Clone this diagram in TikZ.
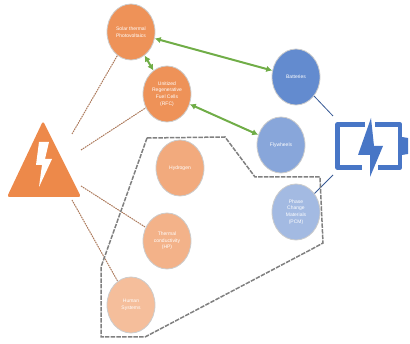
\documentclass[tikz,border=0pt]{standalone}
\usepackage{fontspec}
\setmainfont{Liberation Sans}
\usetikzlibrary{calc, shapes.geometric, arrows.meta}

\definecolor{warnorange}{RGB}{237,137,74}
\definecolor{batteryblue}{RGB}{72,118,198}
\definecolor{flowgreen}{RGB}{112,173,71}
\definecolor{sourcebrown}{RGB}{172,122,92}

\begin{document}
\begin{tikzpicture}[x=1pt, y=-1pt]
    \tikzset{
        tech/.style = {ellipse, draw=black!20, line width=.8pt, minimum width=48pt,
            minimum height=56pt, inner sep=0pt, align=center, text=white,
            font=\fontsize{5}{6.6}\selectfont},
        source/.style = {draw=sourcebrown, dash pattern=on 1.6pt off .8pt, line width=1pt},
        sink/.style = {draw=batteryblue!75!black, line width=.8pt},
        flow/.style = {draw=flowgreen, line width=2pt, {Latex[length=6pt,width=6.5pt]}-{Latex[length=6pt,width=6.5pt]}},
        outline/.style = {draw=black!50, dash pattern=on 4.5pt off 1.2pt, line width=1.5pt}
    }
    \useasboundingbox (0, 0) rectangle (410, 344);

    % Warning sign --------------------------------------
    \fill [warnorange, rounded corners=2.5pt] (43, 121) -- (81, 197) -- (7, 197) -- cycle;
    \fill [white] (39, 142) -- (49, 142) -- (45, 159) -- (52, 159) -- (39, 187) -- (42, 165) -- (36, 165) -- cycle;
    \coordinate (w1) at (72, 134);
    \coordinate (w2) at (81, 150);
    \coordinate (w3) at (81, 186);
    \coordinate (w4) at (72, 200);

    % Storage options -----------------------------------
    \node (solar) at (131, 32) [tech, fill=warnorange!92!white] {Solar thermal\\Photovoltaics};
    \node (urfc) at (167, 94) [tech, fill=warnorange!92!white] {Unitized\\Regenerative\\Fuel Cells\\(RFC)};
    \node (hydrogen) at (180, 168) [tech, fill=warnorange!72!white] {Hydrogen};
    \node (thermal) at (167, 241) [tech, fill=warnorange!65!white] {Thermal\\conductivity\\(HP)};
    \node (human) at (131, 305) [tech, fill=warnorange!55!white] {Human\\Systems};

    \node (batteries) at (296, 77) [tech, fill=batteryblue!85!white] {Batteries};
    \node (flywheels) at (281, 145) [tech, fill=batteryblue!65!white] {Flywheels};
    \node (pcm) at (296, 212) [tech, fill=batteryblue!50!white] {Phase\\Change\\Materials\\(PCM)};

    % Battery icon --------------------------------------
    \draw [batteryblue, line width=4.5pt, line join=round] (365, 124.5) -- (337.5, 124.5) -- (337.5, 167.5) -- (362, 167.5);
    \draw [batteryblue, line width=4.5pt, line join=round] (375, 124.5) -- (400, 124.5) -- (400, 167.5) -- (378, 167.5);
    \fill [batteryblue] (402, 137) -- (408, 138) -- (408, 154) -- (402, 155) -- cycle;
    \fill [batteryblue] (371, 118) -- (358, 155) -- (370, 155) -- (370, 177) -- (383, 146) -- (374, 146) -- cycle;
    \coordinate (b1) at (333, 116);
    \coordinate (b2) at (333, 175);

    % Connectors ----------------------------------------
    \draw [source] (w1) -- (solar);
    \draw [source] (w2) -- (urfc);
    \draw [source] (w3) -- (thermal);
    \draw [source] (w4) -- (human);
    \draw [sink] (batteries) -- (b1);
    \draw [sink] (pcm) -- (b2);

    \draw [flow] (solar) -- (batteries);
    \draw [flow] (solar) -- (urfc);
    \draw [flow] (urfc) -- (flywheels);

    % Grouping outline
    \draw [outline] (147, 138) -- (225, 137) -- (255, 177) -- (320, 177) -- (323, 243) -- (312, 249) -- (145, 337) -- (101, 337) -- (101, 267) -- cycle;
\end{tikzpicture}
\end{document}
